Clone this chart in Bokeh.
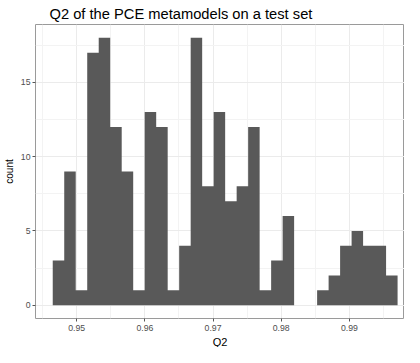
from bokeh.plotting import figure
from bokeh.models import Range1d, FixedTicker, NumeralTickFormatter, ColumnDataSource, Title
from bokeh.embed import file_html
from bokeh.resources import INLINE

# Histogram of Q2 values (30 bins)
bin_start = 0.946488
bin_width = 0.0016859
counts = [3, 9, 1, 17, 18, 12, 9, 1, 13, 12, 1, 4, 18, 8, 13, 7, 8, 12, 1, 3, 6,
          0, 0, 1, 2, 4, 5, 4, 4, 2]
x_major = [0.95, 0.96, 0.97, 0.98, 0.99]
x_minor = [0.945, 0.955, 0.965, 0.975, 0.985, 0.995]
y_major = [0, 5, 10, 15]
y_minor = [2.5, 7.5, 12.5, 17.5]

edges = [bin_start + i * bin_width for i in range(len(counts) + 1)]
src = ColumnDataSource(dict(x=edges, y1=[0] * len(edges), y2=counts + [counts[-1]]))

FONT = "Liberation Sans"

p = figure(width=404, height=347, output_backend="svg", toolbar_location=None,
           x_range=Range1d(0.94396, 0.99808), y_range=Range1d(-0.9, 18.9),
           title="Q2 of the PCE metamodels on a test set")
p.min_border_left = 0
p.min_border_right = 0
p.min_border_top = 0
p.min_border_bottom = 0
p.background_fill_color = "white"
p.border_fill_color = "white"
p.outline_line_color = "#9a9a9a"
p.outline_line_width = 1

p.title.text_font = FONT
p.title.text_font_size = "14.7px"
p.title.text_font_style = "normal"
p.title.text_color = "black"
p.title.standoff = 6
p.title.offset = 14

p.varea_step(x="x", y1="y1", y2="y2", source=src, step_mode="after",
             fill_color="#595959")

for ax in (p.xaxis[0], p.yaxis[0]):
    ax.axis_line_color = None
    ax.major_tick_in = 0
    ax.major_tick_out = 3
    ax.minor_tick_in = 0
    ax.minor_tick_out = 0
    ax.major_tick_line_color = "#555555"
    ax.major_label_text_font = FONT
    ax.major_label_text_font_size = "8.7px"
    ax.major_label_text_color = "#4d4d4d"
    ax.major_label_standoff = 2
    ax.axis_label_text_font = FONT
    ax.axis_label_text_font_style = "normal"
    ax.axis_label_text_color = "black"
    ax.axis_label_standoff = 3

p.xaxis.ticker = FixedTicker(ticks=x_major, minor_ticks=x_minor)
p.yaxis.ticker = FixedTicker(ticks=y_major, minor_ticks=y_minor)
p.xaxis.formatter = NumeralTickFormatter(format="0.00")
p.xaxis.major_label_standoff = 3
p.yaxis.axis_label = "count"
p.yaxis.axis_label_text_font_size = "10px"

p.add_layout(Title(text="Q2", align="center", text_font=FONT, text_font_size="11px",
                   text_font_style="normal", text_color="black", standoff=0,
                   text_line_height=0.7, vertical_align="bottom"), "below")

p.xgrid.grid_line_color = "#ebebeb"
p.ygrid.grid_line_color = "#ebebeb"
p.xgrid.minor_grid_line_color = "#f3f3f3"
p.ygrid.minor_grid_line_color = "#f3f3f3"
p.xgrid.grid_line_width = 1
p.ygrid.grid_line_width = 1

open("out.html", "w").write(file_html(p, INLINE))
